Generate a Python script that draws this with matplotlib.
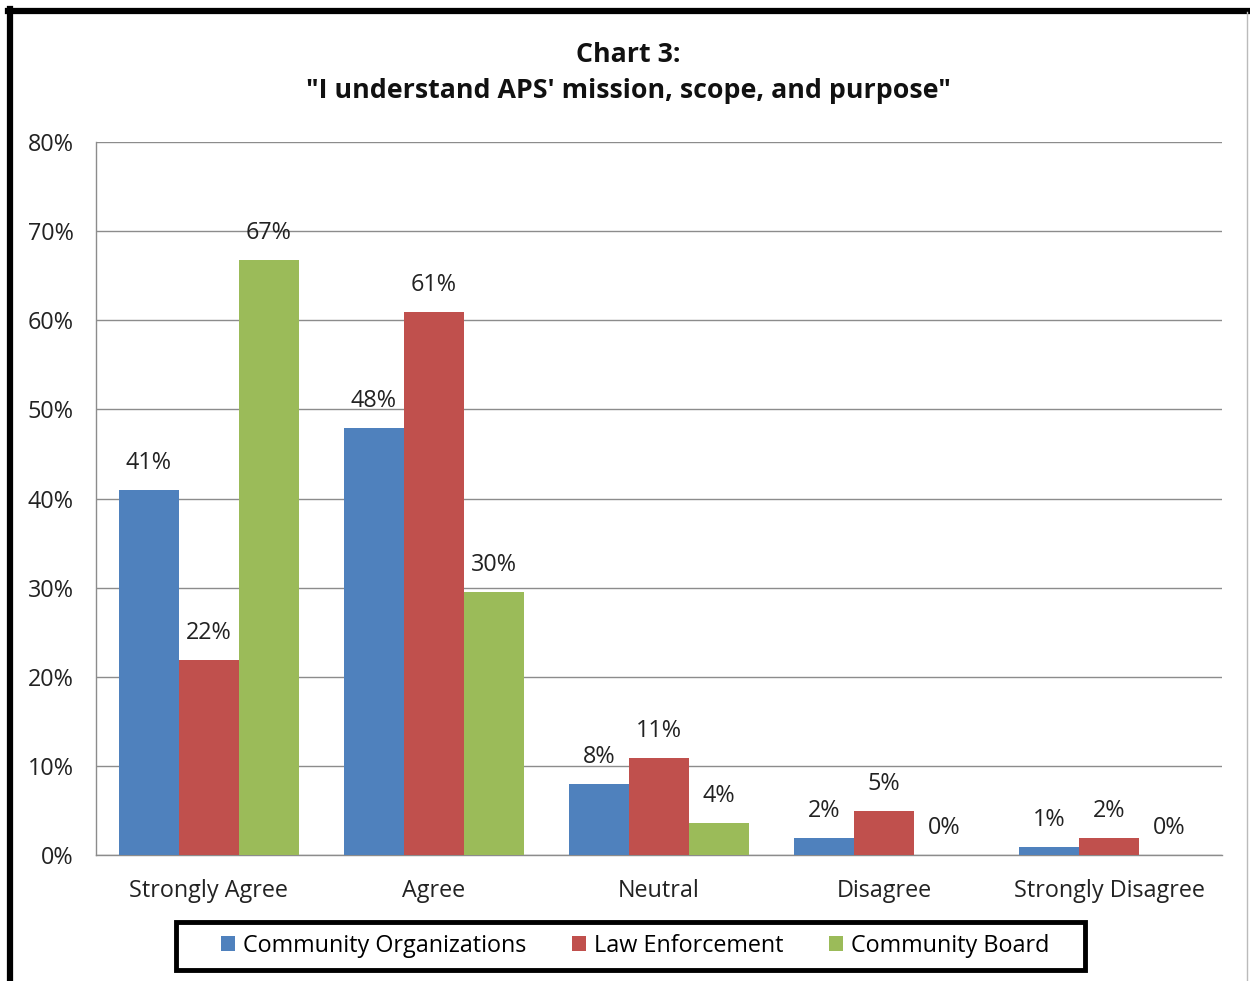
import matplotlib
matplotlib.use("Agg")
import matplotlib.pyplot as plt
from matplotlib.lines import Line2D
from matplotlib.patches import Rectangle
import numpy as np

categories = ["Strongly Agree", "Agree", "Neutral", "Disagree", "Strongly Disagree"]
series_names = ["Community Organizations", "Law Enforcement", "Community Board"]
community_org = [41.0, 47.9, 8.0, 1.9, 0.9]
law_enforcement = [21.9, 60.9, 10.9, 4.9, 1.9]
community_board = [66.8, 29.5, 3.6, 0.0, 0.0]
colors = ["#4F81BD", "#C0504D", "#9BBB59"]
yticks = [0, 10, 20, 30, 40, 50, 60, 70, 80]
title = "Chart 3:\n\"I understand APS' mission, scope, and purpose\""

plt.rcParams['font.family'] = ['Open Sans', 'DejaVu Sans']

fig = plt.figure(figsize=(12.5, 9.81), dpi=100)
W, H = 1250, 981
ax = fig.add_axes([96 / W, 1 - 855 / H, (1222 - 96) / W, (855 - 142) / H])

FS = 16.8
x = np.arange(len(categories))
bw = 0.8 / 3
data = [community_org, law_enforcement, community_board]
for i, (vals, c, name) in enumerate(zip(data, colors, series_names)):
    pos = x - 0.4 + bw * (i + 0.5)
    bars = ax.bar(pos, vals, width=bw, color=c, label=name, zorder=3)
    for b, v in zip(bars, vals):
        ax.annotate(f"{round(v)}%", (b.get_x() + b.get_width() / 2, v),
                    xytext=(0, 19.5), textcoords="offset points",
                    ha="center", va="center", fontsize=FS, color="#222222")

ax.set_xlim(-0.5, len(categories) - 0.5)
ax.set_ylim(0, 80)
ax.set_yticks(yticks)
ax.set_yticklabels([f"{t}%" for t in yticks], fontsize=FS, color="#222222")
ax.set_xticks(x)
ax.set_xticklabels(categories, fontsize=FS, color="#222222")
ax.tick_params(axis='y', length=0, pad=16)
ax.tick_params(axis='x', length=0, pad=17)
ax.yaxis.grid(True, color="#8C8C8C", linewidth=1.0, zorder=0)
ax.set_axisbelow(True)
for s in ["top", "right"]:
    ax.spines[s].set_visible(False)
for s in ["left", "bottom"]:
    ax.spines[s].set_color("#8C8C8C")
    ax.spines[s].set_linewidth(1.0)

fig.text(628 / W, 1 - 73 / H, title, ha="center", va="center",
         fontsize=19.3, fontweight="bold", linespacing=1.45, color="#111111")

leg = fig.legend(loc="center", bbox_to_anchor=(635 / W, 1 - 946 / H), ncol=3,
                 fontsize=FS, frameon=False,
                 handlelength=0.6, handleheight=0.6, handletextpad=0.35,
                 columnspacing=1.95, borderpad=0.45, borderaxespad=0)
fig.add_artist(Rectangle((176 / W, 1 - 970 / H), (1085 - 176) / W, 48 / H,
                         transform=fig.transFigure, fill=False,
                         edgecolor="black", linewidth=3.5))

# figure border
fig.add_artist(Line2D([8 / W, 1], [1 - 11 / H, 1 - 11 / H], color="black", lw=4.5,
                      transform=fig.transFigure))
fig.add_artist(Line2D([10 / W, 10 / W], [1 - 9 / H, 0], color="black", lw=4.5,
                      transform=fig.transFigure))
fig.add_artist(Line2D([1247 / W, 1247 / W], [1 - 12 / H, 0], color="#BBBBBB", lw=1,
                      transform=fig.transFigure))

fig.savefig("out.png", dpi=100)
